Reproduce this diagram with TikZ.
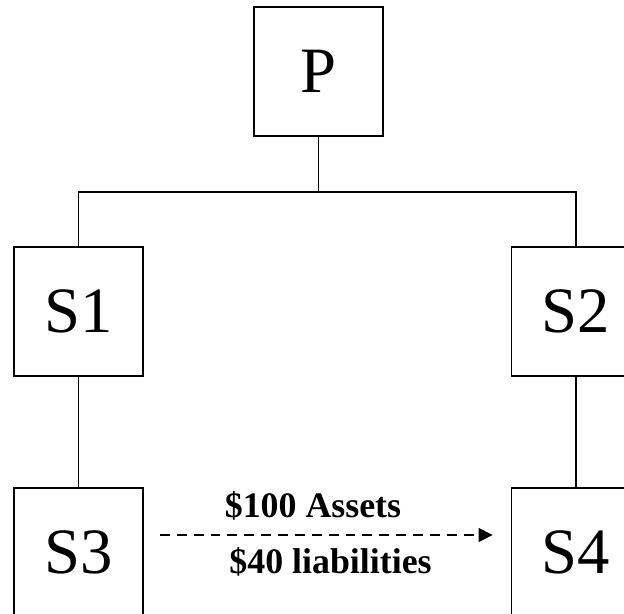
\documentclass[tikz,border=0pt]{standalone}
\usepackage{fontspec}
\setmainfont{Liberation Serif}
\usetikzlibrary{arrows.meta}

\tikzset{entity/.style={draw, line width=1.3pt, minimum size=3.225cm, inner sep=0pt, font=\fontsize{46}{50}\selectfont},
  link/.style={line width=1.3pt},
  flow/.style={line width=1.1pt, dash pattern=on 7pt off 5pt, -{Triangle[length=10pt,width=10pt]}},
  amount/.style={inner sep=0pt, font=\fontsize{25.5}{28}\selectfont\bfseries}}

\begin{document}
\begin{tikzpicture}[x=0.025cm,y=-0.025cm]
\useasboundingbox (0,0) rectangle (624,613);
\node [entity] (P) at (318.5,71.5) {P};
\node [entity] (S1) at (78.5,311.5) {S1};
\node [entity] (S2) at (576,311.5) {S2};
\node [entity] (S3) at (78.5,552.5) {S3};
\node [entity] (S4) at (576,552.5) {S4};
\coordinate (bus) at (318.5,192);

\draw [link] (P) -- (bus);
\draw [link] (bus) -| (S1);
\draw [link] (bus) -| (S2);
\draw [link] (S1) -- (S3);
\draw [link] (S2) -- (S4);

\draw [flow] ([shift={(16,-17.5)}]S3.east) -- ([shift={(-18,-17.5)}]S4.west);
\node [amount] (assets) at (313,506) {\$100 Assets};
\node [amount] (liab) at (330.5,562) {\$40 liabilities};
\end{tikzpicture}
\end{document}
